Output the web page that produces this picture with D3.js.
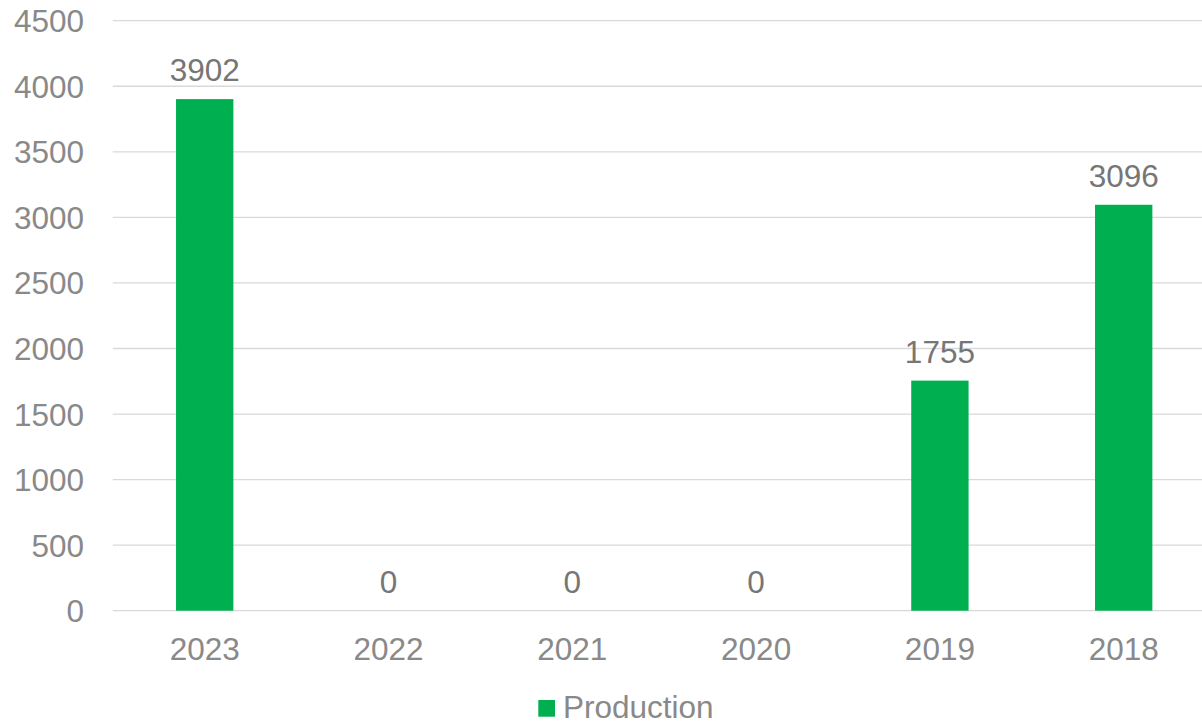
<!DOCTYPE html>
<html>
<head>
<meta charset="utf-8">
<script src="https://cdn.jsdelivr.net/npm/d3@7"></script>
<style>
  html, body { margin: 0; padding: 0; background: #ffffff; }
  svg { display: block; }
  text { font-family: "Liberation Sans", Arial, sans-serif; }
</style>
</head>
<body>
<svg id="chart" width="1202" height="724"></svg>
<script>
const categories = ["2023", "2022", "2021", "2020", "2019", "2018"];
const production = [3902, 0, 0, 0, 1755, 3096];
const yTicks = [0, 500, 1000, 1500, 2000, 2500, 3000, 3500, 4000, 4500];
const seriesName = "Production";

const svg = d3.select("#chart");
const plot = { left: 112.8, right: 1215.6, top: 20.7, bottom: 610.7 };
const FS = "31.5px";

const x = d3.scaleBand().domain(categories).range([plot.left, plot.right]).padding(0);
const y = d3.scaleLinear().domain([0, 4500]).range([plot.bottom, plot.top]);
const barW = x.bandwidth() * 0.312;

// gridlines
svg.append("g").selectAll("line").data(yTicks).join("line")
  .attr("x1", plot.left).attr("x2", plot.right)
  .attr("y1", d => y(d)).attr("y2", d => y(d))
  .attr("stroke", "#d9d9d9").attr("stroke-width", 1.3);

// y axis labels
const yAxis = d3.axisLeft(y).tickValues(yTicks).tickSize(0).tickPadding(0).tickFormat(d3.format("d"));
const yg = svg.append("g").attr("transform", `translate(84,0)`).call(yAxis);
yg.select(".domain").remove();
yg.selectAll("text").attr("fill", "#898989").attr("font-size", FS)
  .attr("font-family", "'Liberation Sans', Arial, sans-serif").attr("dy", "0.35em");

// x axis labels
const xAxis = d3.axisBottom(x).tickSize(0).tickPadding(0);
const xg = svg.append("g").call(xAxis);
xg.select(".domain").remove();
xg.selectAll("text").attr("fill", "#898989").attr("font-size", FS)
  .attr("font-family", "'Liberation Sans', Arial, sans-serif")
  .attr("y", 660).attr("dy", 0);

// bars
const data = categories.map((c, i) => ({ c, v: production[i] }));
svg.append("g").selectAll("rect").data(data).join("rect")
  .attr("x", d => x(d.c) + (x.bandwidth() - barW) / 2)
  .attr("width", barW)
  .attr("y", d => y(d.v))
  .attr("height", d => y(0) - y(d.v))
  .attr("fill", "#00b050");

// data labels
svg.append("g").selectAll("text").data(data).join("text")
  .attr("x", d => x(d.c) + x.bandwidth() / 2)
  .attr("y", d => y(d.v) - 18)
  .attr("text-anchor", "middle")
  .attr("fill", "#767676")
  .attr("font-size", FS)
  .text(d => d.v);

// legend
const lg = svg.append("g");
lg.append("rect").attr("x", 538.3).attr("y", 700).attr("width", 16.7).attr("height", 16.7).attr("fill", "#00b050");
lg.append("text").attr("x", 563).attr("y", 718).attr("fill", "#898989").attr("font-size", FS).text(seriesName);
</script>
</body>
</html>
